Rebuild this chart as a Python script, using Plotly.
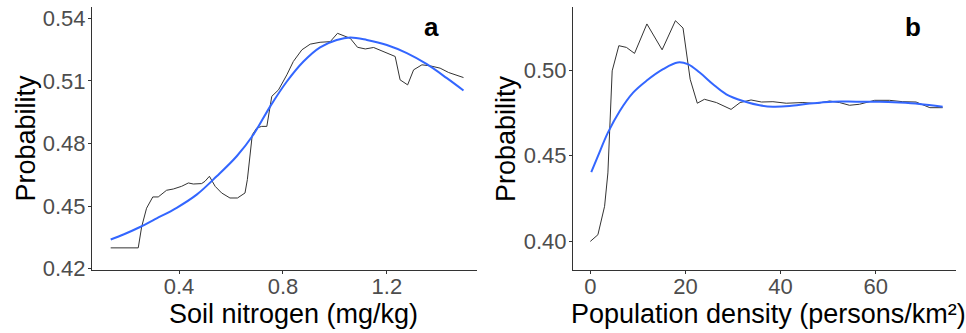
import plotly.graph_objects as go

# Panel a: soil nitrogen
a_raw_x = [0.137, 0.243, 0.256, 0.275, 0.299, 0.320, 0.352, 0.378, 0.410, 0.436, 0.455, 0.487, 0.500,
           0.517, 0.539, 0.564, 0.596, 0.625, 0.654, 0.663, 0.682, 0.699, 0.718, 0.738, 0.757, 0.783,
           0.815, 0.840, 0.873, 0.905, 0.943, 0.982, 1.010, 1.033, 1.059, 1.087, 1.117, 1.149, 1.187,
           1.232, 1.251, 1.280, 1.303, 1.335, 1.367, 1.405, 1.438, 1.495]
a_raw_y = [0.4300, 0.4300, 0.4400, 0.4490, 0.4544, 0.4544, 0.4576, 0.4582, 0.4595, 0.4611, 0.4606, 0.4608,
           0.4619, 0.4643, 0.4595, 0.4563, 0.4539, 0.4539, 0.4563, 0.4627, 0.4842, 0.4874, 0.4882, 0.4882,
           0.5026, 0.5057, 0.5129, 0.5193, 0.5249, 0.5276, 0.5285, 0.5288, 0.5328, 0.5316, 0.5304, 0.5261,
           0.5253, 0.5260, 0.5241, 0.5217, 0.5105, 0.5081, 0.5153, 0.5177, 0.5172, 0.5161, 0.5140, 0.5116]
a_fit_x = [0.137, 0.186, 0.250, 0.314, 0.391, 0.468, 0.545, 0.622, 0.686, 0.751, 0.815, 0.879, 0.943,
           1.007, 1.059, 1.123, 1.200, 1.277, 1.354, 1.431, 1.495]
a_fit_y = [0.4340, 0.4364, 0.4400, 0.4441, 0.4492, 0.4555, 0.4643, 0.4739, 0.4842, 0.4978, 0.5097, 0.5193,
           0.5261, 0.5296, 0.5308, 0.5296, 0.5272, 0.5233, 0.5180, 0.5113, 0.5054]
a_ticks_x = [0.4, 0.8, 1.2]
a_ticks_y = [0.42, 0.45, 0.48, 0.51, 0.54]

# Panel b: population density
b_raw_x = [0, 1.6, 3.0, 3.7, 4.6, 6.0, 7.6, 9.3, 11.9, 15.1, 17.9, 19.5, 21.0, 22.5, 24.0, 26.5, 29.6,
           31.5, 33.8, 36.0, 38.4, 41.2, 44.7, 47.5, 50.3, 52.4, 54.5, 56.6, 59.8, 62.9, 65.7, 68.5, 71.4, 74.1]
b_raw_y = [0.4000, 0.4039, 0.4205, 0.4400, 0.4996, 0.5143, 0.5133, 0.5098, 0.5270, 0.5119, 0.5289, 0.5246,
           0.4947, 0.4807, 0.4830, 0.4811, 0.4771, 0.4811, 0.4826, 0.4814, 0.4816, 0.4807, 0.4811, 0.4805,
           0.4820, 0.4811, 0.4795, 0.4801, 0.4824, 0.4824, 0.4816, 0.4814, 0.4781, 0.4781]
b_fit_x = [0.2, 1.6, 3.7, 6.2, 9.0, 11.8, 15.3, 18.4, 20.5, 23.0, 25.8, 28.6, 32.1, 35.6, 38.4, 41.9, 46.1,
           51.0, 55.9, 60.8, 65.0, 69.2, 74.1]
b_fit_y = [0.4404, 0.4498, 0.4635, 0.4762, 0.4869, 0.4938, 0.5006, 0.5045, 0.5035, 0.4986, 0.4918, 0.4859,
           0.4820, 0.4795, 0.4787, 0.4791, 0.4805, 0.4816, 0.4816, 0.4816, 0.4811, 0.4803, 0.4787]
b_ticks_x = [0, 20, 40, 60]
b_ticks_y = [0.40, 0.45, 0.50]

W, H = 966, 333
FONT = "Liberation Sans, Arial, sans-serif"
RAW_COLOR = "#333333"
FIT_COLOR = "#3366FF"

fig = go.Figure()
fig.add_trace(go.Scatter(x=a_raw_x, y=a_raw_y, mode="lines", line=dict(color=RAW_COLOR, width=1),
                         xaxis="x", yaxis="y", showlegend=False))
fig.add_trace(go.Scatter(x=a_fit_x, y=a_fit_y, mode="lines", line=dict(color=FIT_COLOR, width=2, shape="spline"),
                         xaxis="x", yaxis="y", showlegend=False))
fig.add_trace(go.Scatter(x=b_raw_x, y=b_raw_y, mode="lines", line=dict(color=RAW_COLOR, width=1),
                         xaxis="x2", yaxis="y2", showlegend=False))
fig.add_trace(go.Scatter(x=b_fit_x, y=b_fit_y, mode="lines", line=dict(color=FIT_COLOR, width=2, shape="spline"),
                         xaxis="x2", yaxis="y2", showlegend=False))

axis_common = dict(showgrid=False, zeroline=False, showline=True, linecolor="#333333", linewidth=1,
                   ticks="outside", ticklen=3, tickcolor="#333333", tickwidth=1, automargin=False,
                   tickfont=dict(family=FONT, size=22, color="#4D4D4D"))
xaxis_extra = dict(ticklabelstandoff=-6)
yaxis_extra = dict(ticklabelstandoff=-2)

ydom = [(H - 270) / H, (H - 7) / H]
fig.update_layout(
    width=W, height=H, margin=dict(l=0, r=0, t=0, b=0),
    paper_bgcolor="white", plot_bgcolor="white",
    xaxis=dict(domain=[92 / W, 477 / W], range=[0.065, 1.547], tickvals=a_ticks_x,
               ticktext=[f"{v:.1f}" for v in a_ticks_x], anchor="y", **axis_common, **xaxis_extra),
    yaxis=dict(domain=ydom, range=[0.4194, 0.5454], tickvals=a_ticks_y,
               ticktext=[f"{v:.2f}" for v in a_ticks_y], anchor="x", **axis_common, **yaxis_extra),
    xaxis2=dict(domain=[573 / W, 956 / W], range=[-3.64, 76.9], tickvals=b_ticks_x,
                ticktext=[str(v) for v in b_ticks_x], anchor="y2", **axis_common, **xaxis_extra),
    yaxis2=dict(domain=ydom, range=[0.3833, 0.5369], tickvals=b_ticks_y,
                ticktext=[f"{v:.2f}" for v in b_ticks_y], anchor="x2", **axis_common, **yaxis_extra),
)

def px(x, y):
    return x / W, (H - y) / H

annots = [
    ("<b>a</b>", 431.5, 27, 0, 26),
    ("<b>b</b>", 913, 27, 0, 26),
    ("Soil nitrogen (mg/kg)", 293.5, 314, 0, 27),
    ("Population density (persons/km²)", 768, 314, 0, 27),
    ("Probability", 25, 138.5, -90, 27),
    ("Probability", 505.5, 138.5, -90, 27),
]
for text, x, y, ang, size in annots:
    ax, ay = px(x, y)
    fig.add_annotation(text=text, x=ax, y=ay, xref="paper", yref="paper", showarrow=False,
                       textangle=ang, xanchor="center", yanchor="middle",
                       font=dict(family=FONT, size=size, color="#000000"))

fig.write_html("out.html")
